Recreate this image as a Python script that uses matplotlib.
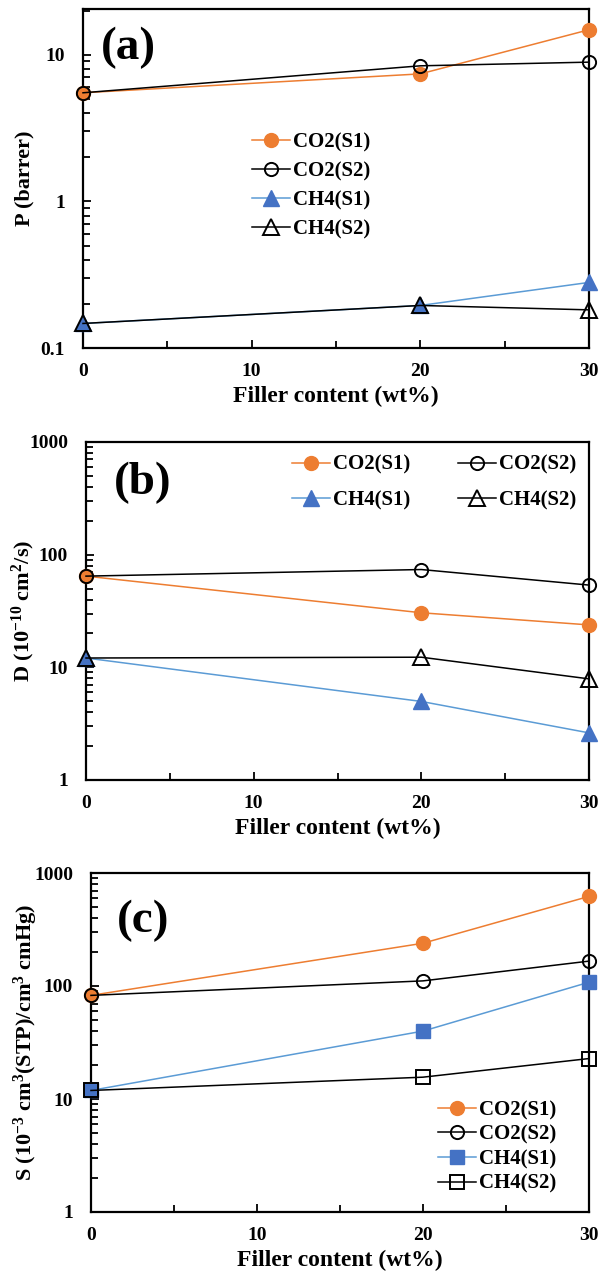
import matplotlib
matplotlib.use('Agg')
import matplotlib.pyplot as plt
from matplotlib.ticker import FixedLocator, LogLocator, NullFormatter, FixedFormatter

plt.rcParams['font.family'] = ['Liberation Serif', 'DejaVu Serif']
plt.rcParams['font.weight'] = 'bold'
plt.rcParams['mathtext.fontset'] = 'custom'
plt.rcParams['mathtext.rm'] = 'Liberation Serif:bold'
plt.rcParams['mathtext.bf'] = 'Liberation Serif:bold'
plt.rcParams['mathtext.default'] = 'rm'

# --- data ---
filler = [0, 20, 30]

# (a) permeability, barrer
p_co2_s1 = [5.5, 7.4, 14.8]
p_co2_s2 = [5.5, 8.4, 8.9]
p_ch4_s1 = [0.147, 0.195, 0.28]
p_ch4_s2 = [0.147, 0.195, 0.182]

# (b) diffusivity, 1e-10 cm2/s
d_co2_s1 = [64.5, 30.5, 23.8]
d_co2_s2 = [64.5, 73.8, 53.7]
d_ch4_s1 = [12.1, 4.98, 2.62]
d_ch4_s2 = [12.1, 12.3, 7.9]

# (c) solubility
s_co2_s1 = [82.6, 239, 621]
s_co2_s2 = [82.6, 111, 166]
s_ch4_s1 = [11.9, 39.9, 108]
s_ch4_s2 = [11.9, 15.6, 22.8]

labels = ['CO2(S1)', 'CO2(S2)', 'CH4(S1)', 'CH4(S2)']

ORANGE = '#ED7D31'
BLUE = '#4472C4'
LBLUE = '#5B9BD5'

W, H = 604, 1275
fig = plt.figure(figsize=(W / 100, H / 100), dpi=100)


def make_ax(l, r, t, b):
    return fig.add_axes([l / W, 1 - b / H, (r - l) / W, (b - t) / H])


def style(ax, ylim, yticks, ylab, ylab_x):
    ax.set_xlim(0, 30)
    ax.set_yscale('log')
    ax.set_ylim(*ylim)
    ax.xaxis.set_major_locator(FixedLocator([0, 10, 20, 30]))
    ax.xaxis.set_minor_locator(FixedLocator([5, 15, 25]))
    ax.yaxis.set_major_locator(FixedLocator(yticks))
    ax.yaxis.set_major_formatter(FixedFormatter([('%g' % v) for v in yticks]))
    ax.yaxis.set_minor_locator(LogLocator(base=10, subs=range(2, 10)))
    ax.yaxis.set_minor_formatter(NullFormatter())
    ax.tick_params(which='both', direction='in', top=False, right=False,
                   width=1.3, colors='black')
    ax.tick_params(axis='x', which='major', length=6, pad=11, labelsize=14)
    ax.tick_params(axis='x', which='minor', length=5)
    ax.tick_params(axis='y', which='major', length=6, pad=13, labelsize=14)
    ax.tick_params(axis='y', which='minor', length=5)
    for s in ax.spines.values():
        s.set_linewidth(1.6)
    ax.set_xlabel('Filler content (wt%)', fontsize=17, fontweight='bold', labelpad=4)
    ax.set_ylabel(ylab, fontsize=16, fontweight='bold')
    ax.yaxis.set_label_coords(ylab_x, 0.5)


def draw(ax, y1, y2, y3, y4, m34, ms34):
    h1, = ax.plot(filler, y1, '-o', color=ORANGE, lw=1.1, ms=10, mfc=ORANGE, mec=ORANGE,
                  clip_on=False, label=labels[0], zorder=3)
    h2, = ax.plot(filler, y2, '-o', color='black', lw=1.1, ms=9.5, mfc='none', mec='black',
                  mew=1.4, clip_on=False, label=labels[1], zorder=4)
    h3, = ax.plot(filler, y3, '-', marker=m34, color=LBLUE, lw=1.1, ms=ms34, mfc=BLUE, mec=BLUE,
                  clip_on=False, label=labels[2], zorder=3)
    h4, = ax.plot(filler, y4, '-', marker=m34, color='black', lw=1.1, ms=ms34, mfc='none',
                  mec='black', mew=1.4, clip_on=False, label=labels[3], zorder=4)
    return [h1, h2, h3, h4]


# (a)
ax_a = make_ax(83, 589, 9, 348)
draw(ax_a, p_co2_s1, p_co2_s2, p_ch4_s1, p_ch4_s2, '^', 11)
style(ax_a, (0.1, 20.5), [0.1, 1, 10], 'P (barrer)', -0.095)
ax_a.legend(loc='upper left', bbox_to_anchor=(0.334, 0.635), frameon=False,
            borderpad=0, borderaxespad=0, handlelength=1.8, handletextpad=0.15,
            labelspacing=0.42, prop={'size': 15, 'weight': 'bold'})
ax_a.text(0.09, 0.885, '(a)', transform=ax_a.transAxes, fontsize=34,
          fontweight='bold', ha='center', va='center')

# (b)
ax_b = make_ax(86, 589, 442, 780)
hb = draw(ax_b, d_co2_s1, d_co2_s2, d_ch4_s1, d_ch4_s2, '^', 11)
style(ax_b, (1, 1000), [1, 10, 100, 1000], r'D (10$^{-10}$ cm$^{2}$/s)', -0.097)
ax_b.legend([hb[0], hb[2], hb[1], hb[3]], [labels[0], labels[2], labels[1], labels[3]],
            loc='upper left', bbox_to_anchor=(0.41, 0.962), frameon=False, ncol=2,
            borderpad=0, borderaxespad=0, handlelength=1.8, handletextpad=0.15,
            labelspacing=0.75, columnspacing=2.3, prop={'size': 15, 'weight': 'bold'})
ax_b.text(0.113, 0.88, '(b)', transform=ax_b.transAxes, fontsize=34,
          fontweight='bold', ha='center', va='center')

# (c)
ax_c = make_ax(91, 589, 873, 1212)
draw(ax_c, s_co2_s1, s_co2_s2, s_ch4_s1, s_ch4_s2, 's', 10.5)
style(ax_c, (1, 1000), [1, 10, 100, 1000],
      r'S (10$^{-3}$ cm$^{3}$(STP)/cm$^{3}$ cmHg)', -0.102)
ax_c.legend(loc='upper left', bbox_to_anchor=(0.697, 0.33), frameon=False,
            borderpad=0, borderaxespad=0, handlelength=1.8, handletextpad=0.15,
            labelspacing=0.22, prop={'size': 15, 'weight': 'bold'})
ax_c.text(0.105, 0.86, '(c)', transform=ax_c.transAxes, fontsize=34,
          fontweight='bold', ha='center', va='center')

fig.savefig('out.png', dpi=100)
